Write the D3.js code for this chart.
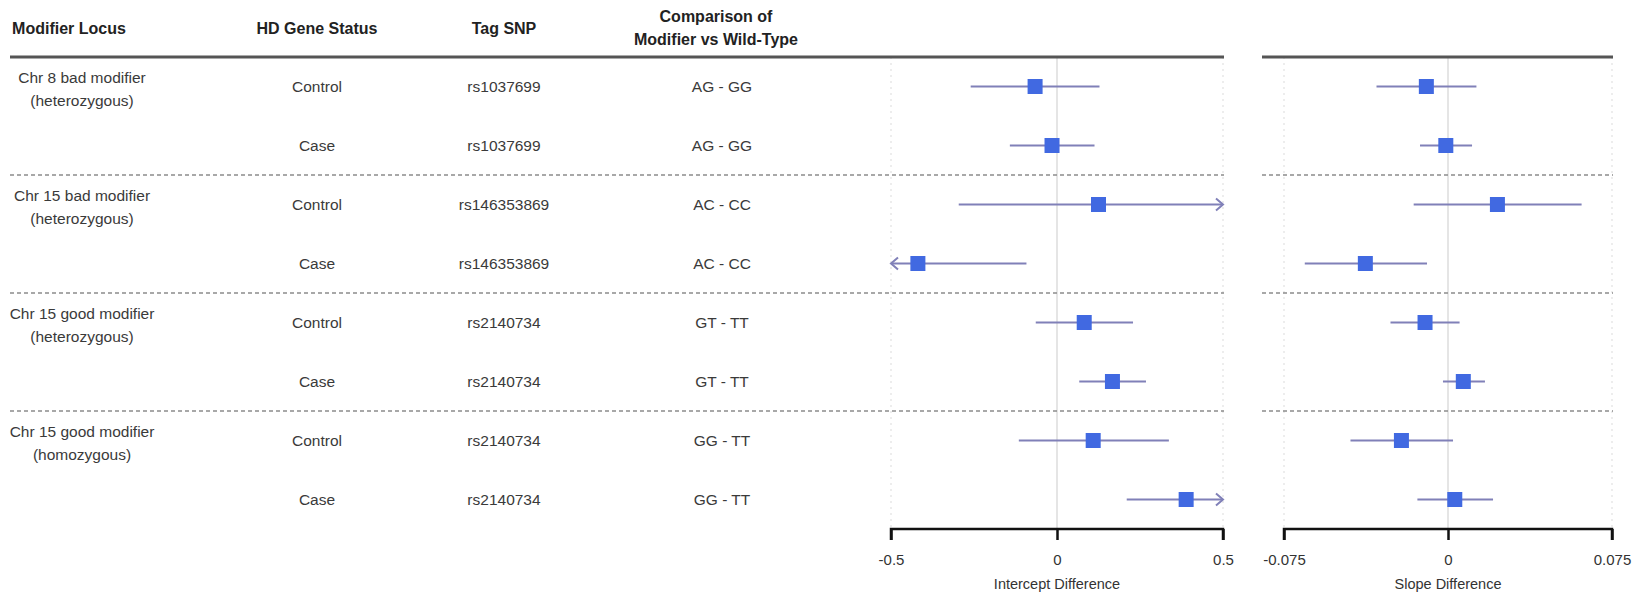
<!DOCTYPE html>
<html>
<head>
<meta charset="utf-8">
<script src="https://cdn.jsdelivr.net/npm/d3@7"></script>
<style>
  body { margin: 0; background: #fff; }
  svg text { font-family: "Liberation Sans", Arial, sans-serif; }
</style>
</head>
<body>
<div id="container" style="width:1643px;height:595px"></div>
<script>
// table columns
const headers = ["Modifier Locus", "HD Gene Status", "Tag SNP", ["Comparison of", "Modifier vs Wild-Type"]];
const groups = [
  ["Chr 8 bad modifier", "(heterozygous)"],
  ["Chr 15 bad modifier", "(heterozygous)"],
  ["Chr 15 good modifier", "(heterozygous)"],
  ["Chr 15 good modifier", "(homozygous)"]
];
const status = ["Control", "Case", "Control", "Case", "Control", "Case", "Control", "Case"];
const snps = ["rs1037699", "rs1037699", "rs146353869", "rs146353869", "rs2140734", "rs2140734", "rs2140734", "rs2140734"];
const comparisons = ["AG - GG", "AG - GG", "AC - CC", "AC - CC", "GT - TT", "GT - TT", "GG - TT", "GG - TT"];

// intercept difference: estimate, lower, upper
const interceptEst = [-0.066, -0.015, 0.125, -0.419, 0.082, 0.167, 0.109, 0.389];
const interceptLo  = [-0.26, -0.142, -0.296, -0.62, -0.064, 0.067, -0.115, 0.21];
const interceptHi  = [0.128, 0.113, 0.72, -0.092, 0.229, 0.268, 0.337, 0.58];

// slope difference: estimate, lower, upper
const slopeEst = [-0.0099, -0.001, 0.0226, -0.0378, -0.0105, 0.007, -0.0213, 0.0031];
const slopeLo  = [-0.0327, -0.0128, -0.0157, -0.0655, -0.0263, -0.0023, -0.0446, -0.014];
const slopeHi  = [0.013, 0.011, 0.0611, -0.0096, 0.0053, 0.0169, 0.0023, 0.0206];

const interceptTicks = [-0.5, 0, 0.5];
const slopeTicks = [-0.075, 0, 0.075];

const width = 1643, height = 595;
const svg = d3.select("#container").append("svg")
  .attr("width", width).attr("height", height);

const yTop = 57, yBottom = 529;
const rows = d3.range(status.length);
const y = d3.scaleBand().domain(rows).range([yTop, yBottom]);
const yc = i => y(i) + y.bandwidth() / 2;

const xInt = d3.scaleLinear().domain([-0.5, 0.5]).range([891, 1223]);
const xSlope = d3.scaleLinear().domain([-0.075, 0.075]).range([1284, 1612]);

const lineColor = "#8080b8";
const boxColor = "#4169e1";

// header text
const colX = [69, 317, 504, 716];
headers.forEach((h, i) => {
  const lines = Array.isArray(h) ? h : [h];
  const t = svg.append("text")
    .attr("x", colX[i]).attr("text-anchor", "middle")
    .style("font-size", "16px").style("font-weight", "bold").style("fill", "#222");
  lines.forEach((l, k) => {
    t.append("tspan").attr("x", colX[i])
      .attr("y", lines.length === 1 ? 34 : 22 + k * 23)
      .text(l);
  });
});

// table body
const body = svg.append("g").style("font-size", "15.5px").style("fill", "#3a3a3a");
groups.forEach((g, gi) => {
  const cy = yc(gi * 2);
  body.append("text").attr("x", 82).attr("y", cy - 4).attr("text-anchor", "middle").text(g[0]);
  body.append("text").attr("x", 82).attr("y", cy + 19).attr("text-anchor", "middle").text(g[1]);
});
rows.forEach(i => {
  body.append("text").attr("x", colX[1]).attr("y", yc(i) + 5.5).attr("text-anchor", "middle").text(status[i]);
  body.append("text").attr("x", colX[2]).attr("y", yc(i) + 5.5).attr("text-anchor", "middle").text(snps[i]);
  body.append("text").attr("x", 722).attr("y", yc(i) + 5.5).attr("text-anchor", "middle").text(comparisons[i]);
});

// panels
function panel(x, ticks, est, lo, hi, title, leftEdge) {
  const [x0, x1] = x.range();
  const g = svg.append("g");

  // grid
  ticks.forEach(t => {
    g.append("line")
      .attr("x1", x(t)).attr("x2", x(t)).attr("y1", yTop).attr("y2", yBottom)
      .attr("stroke", t === 0 ? "#dcdcdc" : "#e2e2e2")
      .attr("stroke-width", t === 0 ? 1.5 : 1.2)
      .attr("stroke-dasharray", t === 0 ? null : "2,4");
  });

  // top rule
  g.append("line").attr("x1", leftEdge).attr("x2", x1 + 1).attr("y1", yTop).attr("y2", yTop)
    .attr("stroke", "#555").attr("stroke-width", 3);

  // group separators
  [2, 4, 6].forEach(r => {
    g.append("line").attr("x1", leftEdge).attr("x2", x1 + 1)
      .attr("y1", y(r)).attr("y2", y(r))
      .attr("stroke", "#8c8c8c").attr("stroke-width", 1.4).attr("stroke-dasharray", "4,3");
  });

  // intervals
  const [d0, d1] = x.domain();
  rows.forEach(i => {
    const a = x(Math.max(lo[i], d0)), b = x(Math.min(hi[i], d1));
    g.append("line").attr("x1", a).attr("x2", b).attr("y1", yc(i)).attr("y2", yc(i))
      .attr("stroke", lineColor).attr("stroke-width", 2);
    if (lo[i] < d0) {
      g.append("path").attr("d", `M${a + 7},${yc(i) - 6}L${a},${yc(i)}L${a + 7},${yc(i) + 6}`)
        .attr("fill", "none").attr("stroke", lineColor).attr("stroke-width", 2);
    }
    if (hi[i] > d1) {
      g.append("path").attr("d", `M${b - 7},${yc(i) - 6}L${b},${yc(i)}L${b - 7},${yc(i) + 6}`)
        .attr("fill", "none").attr("stroke", lineColor).attr("stroke-width", 2);
    }
    g.append("rect").attr("x", x(est[i]) - 7.5).attr("y", yc(i) - 7.5)
      .attr("width", 15).attr("height", 15).attr("fill", boxColor);
  });

  // axis
  const axis = d3.axisBottom(x).tickValues(ticks).tickSize(11).tickSizeOuter(0).tickPadding(14)
    .tickFormat(d => String(d));
  const ag = g.append("g").attr("transform", `translate(0,${yBottom})`).call(axis);
  ag.select(".domain").attr("stroke", "#111").attr("stroke-width", 2.5).attr("d", `M${x0},11V0H${x1}V11`);
  ag.selectAll(".tick line").attr("stroke", "#111").attr("stroke-width", 2.5);
  ag.selectAll(".tick text").style("font-size", "15px").style("fill", "#333")
    .style("font-family", "Liberation Sans, Arial, sans-serif");

  g.append("text").attr("x", (x0 + x1) / 2).attr("y", 589).attr("text-anchor", "middle")
    .style("font-size", "14.5px").style("fill", "#333").text(title);
}

panel(xInt, interceptTicks, interceptEst, interceptLo, interceptHi, "Intercept Difference", 10);
panel(xSlope, slopeTicks, slopeEst, slopeLo, slopeHi, "Slope Difference", 1262);
</script>
</body>
</html>
